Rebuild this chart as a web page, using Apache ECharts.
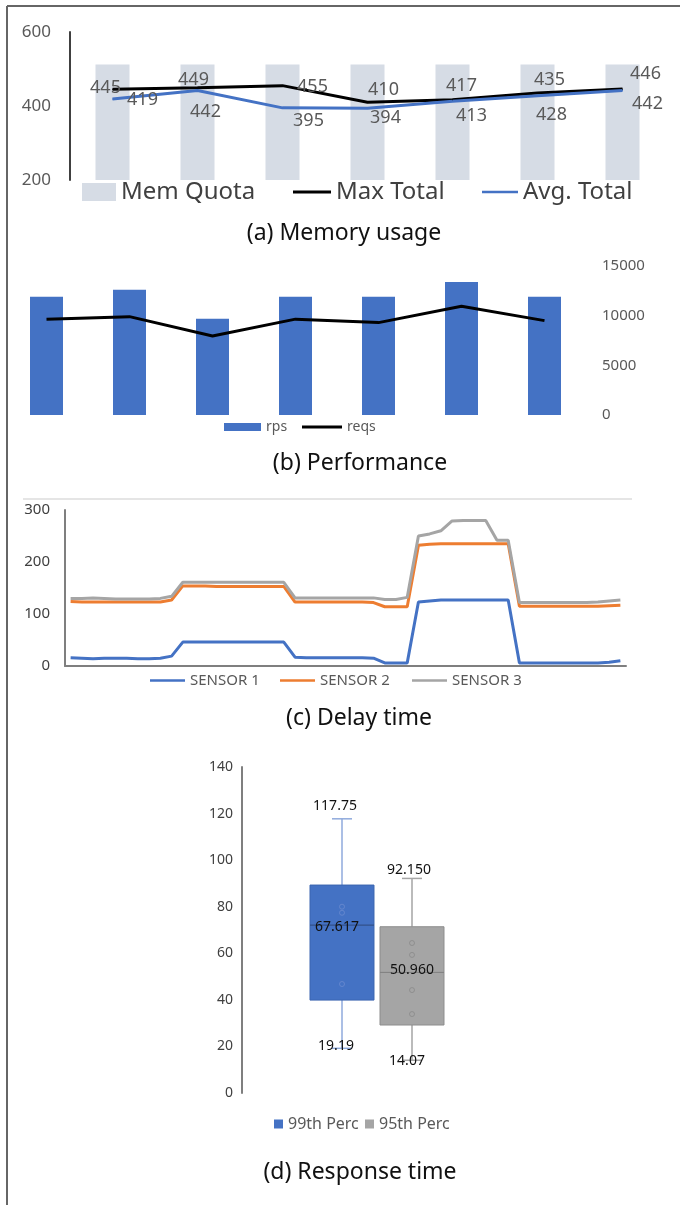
<!DOCTYPE html>
<html>
<head>
<meta charset="utf-8">
<script src="https://cdn.jsdelivr.net/npm/echarts@6/dist/echarts.min.js"></script>
<style>
html, body { margin: 0; padding: 0; background: #fff; }
#chart { width: 680px; height: 1205px; }
</style>
</head>
<body>
<div id="chart"></div>
<script>
// (a) memory usage
var memCats = ['1', '2', '3', '4', '5', '6', '7'];
var memQuota = [512, 512, 512, 512, 512, 512, 512];
var maxTotal = [445, 449, 455, 410, 417, 435, 446];
var avgTotal = [419, 442, 395, 394, 413, 428, 442];

// (b) performance
var perfCats = ['1', '2', '3', '4', '5', '6', '7'];
var rps = [11900, 12600, 9700, 11900, 11900, 13400, 11900];
var reqs = [9650, 9900, 7950, 9650, 9300, 10950, 9500];

// (c) delay time, 50 samples
var delayCats = [];
for (var i = 1; i <= 50; i++) delayCats.push(String(i));
var sensor1 = [16, 15, 14, 15, 15, 15, 14, 14, 15, 19,
	46, 46, 46, 46, 46, 46, 46, 46, 46, 46,
	17, 16, 16, 16, 16, 16, 16, 15, 6, 6,
	6, 123, 125, 127, 127, 127, 127, 127, 127, 127,
	6, 6, 6, 6, 6, 6, 6, 6, 7, 10];
var sensor2 = [124, 123, 123, 123, 123, 123, 123, 123, 123, 127,
	154, 154, 154, 153, 153, 153, 153, 153, 153, 153,
	123, 123, 123, 123, 123, 123, 123, 122, 114, 114,
	114, 232, 234, 235, 235, 235, 235, 235, 235, 235,
	115, 115, 115, 115, 115, 115, 115, 115, 116, 117];
var sensor3 = [130, 130, 131, 130, 129, 129, 129, 129, 130, 134,
	161, 161, 161, 161, 161, 161, 161, 161, 161, 161,
	131, 131, 131, 131, 131, 131, 131, 131, 128, 128,
	132, 250, 254, 260, 279, 280, 280, 280, 242, 242,
	122, 122, 122, 122, 122, 122, 122, 123, 125, 127];

// (d) response time: min, q1, median, q3, max
var respCats = ['p99', 'p95'];
var p99Box = [19.19, 39.9, 72.1, 89.3, 117.75];
var p95Box = [14.07, 29.2, 51.8, 71.4, 92.15];
var p99Mean = 67.617;
var p95Mean = 50.96;
var p99Points = [80, 77.4, 46.8];
var p95Points = [64.4, 59.3, 44.2, 33.9];

// label offsets (px) for panel (a), excel-ish placement
var maxLabelOff = [[-7, -1], [-4, -8], [30, 1], [16, -12], [9, -14], [12, -13], [23, -15]];
var avgLabelOff = [[30, 1], [8, 21], [26, 13], [18, 10], [19, 15], [14, 19], [25, 13]];

var FONT = 'Noto Sans';
var linePath = 'path://M0,0H40V3H0Z';

function labelled(vals, offs) {
	return vals.map(function (v, i) {
		return { value: v, label: { offset: offs[i] } };
	});
}

function legendItem(name, left, top, w, h, icon, size, color) {
	return {
		data: [{ name: name, icon: icon }],
		left: left, top: top,
		itemWidth: w, itemHeight: h,
		padding: 0, selectedMode: false,
		textStyle: { fontSize: size, color: color || '#595959', fontFamily: FONT }
	};
}

function boxSeries(name, cat, box, mean, st) {
	return {
		name: name,
		type: 'custom',
		xAxisIndex: 3,
		yAxisIndex: 3,
		itemStyle: { color: st.fill },
		data: [[cat].concat(box, [mean])],
		encode: { x: 0, y: [1, 2, 3, 4, 5] },
		renderItem: function (params, api) {
			var c = api.value(0);
			var x = api.coord([c, 0])[0];
			var y = function (k) { return api.coord([c, api.value(k)])[1]; };
			var bw = api.size([1, 0])[0] * 0.914;
			var yMin = y(1), yQ1 = y(2), yMed = y(3), yQ3 = y(4), yMax = y(5), yMean = y(6);
			var ln = function (x1, y1, x2, y2, color, w) {
				return { type: 'line', shape: { x1: x1, y1: y1, x2: x2, y2: y2 }, style: { stroke: color, lineWidth: w } };
			};
			var tx = function (val, dec, px, py) {
				return {
					type: 'text', x: px, y: py, z2: 10,
					style: { text: val.toFixed(dec), align: 'center', verticalAlign: 'middle', fontSize: 14, fontFamily: FONT, fill: '#111' }
				};
			};
			return {
				type: 'group',
				children: [
					ln(x, yQ1, x, yMin, st.whisker, 1.5),
					ln(x, yQ3, x, yMax, st.whisker, 1.5),
					ln(x - 10, yMin, x + 10, yMin, st.whisker, 1.5),
					ln(x - 10, yMax, x + 10, yMax, st.whisker, 1.5),
					{ type: 'rect', shape: { x: x - bw / 2, y: yQ3, width: bw, height: yQ1 - yQ3 }, style: { fill: st.fill, stroke: st.border, lineWidth: 1 } },
					ln(x - bw / 2, yMed, x + bw / 2, yMed, st.median, 1),
					tx(api.value(5), st.dec[0], x + st.lab[0][0], yMax + st.lab[0][1]),
					tx(api.value(6), st.dec[1], x + st.lab[1][0], yMean + st.lab[1][1]),
					tx(api.value(1), st.dec[2], x + st.lab[2][0], yMin + st.lab[2][1])
				]
			};
		}
	};
}

var myChart = echarts.init(document.getElementById('chart'));

var option = {
	animation: false,
	backgroundColor: '#fff',
	textStyle: { fontFamily: FONT },
	grid: [
		{ left: 70, right: 15, top: 32, height: 148, outerBoundsMode: 'none' },
		{ left: 5, right: 94, top: 266, height: 149, outerBoundsMode: 'none' },
		{ left: 65, right: 54, top: 510, height: 156, outerBoundsMode: 'none' },
		{ left: 307, width: 140, top: 767, height: 326, outerBoundsMode: 'none' }
	],
	xAxis: [
		{ gridIndex: 0, type: 'category', data: memCats, show: false },
		{ gridIndex: 1, type: 'category', data: perfCats, show: false },
		{
			gridIndex: 2, type: 'category', data: delayCats,
			axisLine: { show: true, lineStyle: { color: '#7f7f7f', width: 2 } },
			axisTick: { show: false }, axisLabel: { show: false }, splitLine: { show: false }
		},
		{ gridIndex: 3, type: 'category', data: respCats, show: false }
	],
	yAxis: [
		{
			gridIndex: 0, type: 'value', min: 200, max: 600, interval: 200,
			axisLine: { show: true, lineStyle: { color: '#404040', width: 2 } },
			axisTick: { show: false }, splitLine: { show: false },
			axisLabel: { fontSize: 17, color: '#595959', margin: 19 }
		},
		{
			gridIndex: 1, type: 'value', position: 'right', min: 0, max: 15000, interval: 5000,
			axisLine: { show: false }, axisTick: { show: false }, splitLine: { show: false },
			axisLabel: { fontSize: 15, color: '#595959', margin: 16, formatter: function (v) { return String(v); } }
		},
		{
			gridIndex: 2, type: 'value', min: 0, max: 300, interval: 100,
			axisLine: { show: true, lineStyle: { color: '#7f7f7f', width: 2 } },
			axisTick: { show: false }, splitLine: { show: false },
			axisLabel: { fontSize: 15, color: '#404040', margin: 15 }
		},
		{
			gridIndex: 3, type: 'value', min: 0, max: 140, interval: 20, offset: 65,
			axisLine: { show: true, lineStyle: { color: '#7f7f7f', width: 2 } },
			axisTick: { show: false }, splitLine: { show: false },
			axisLabel: { fontSize: 14, color: '#404040', margin: 9 }
		}
	],
	legend: [
		legendItem('Mem Quota', 82, 180, 34, 18, 'rect', 24, '#404040'),
		legendItem('Max Total', 293, 180, 38, 3, linePath, 24, '#404040'),
		legendItem('Avg. Total', 482, 180, 36, 3, linePath, 24, '#404040'),
		legendItem('rps', 224, 420, 37, 8, 'rect', 14),
		legendItem('reqs', 302, 420, 40, 3, linePath, 14),
		legendItem('SENSOR 1', 150, 673, 35, 3, linePath, 15),
		legendItem('SENSOR 2', 280, 673, 35, 3, linePath, 15),
		legendItem('SENSOR 3', 412, 673, 35, 3, linePath, 15),
		legendItem('99th Perc', 274, 1116, 9, 9, 'rect', 16),
		legendItem('95th Perc', 365, 1116, 9, 9, 'rect', 16)
	],
	series: [
		{
			name: 'Mem Quota', type: 'bar', xAxisIndex: 0, yAxisIndex: 0,
			data: memQuota, barWidth: 34, itemStyle: { color: '#d6dce5' }
		},
		{
			name: 'Max Total', type: 'line', xAxisIndex: 0, yAxisIndex: 0,
			data: labelled(maxTotal, maxLabelOff),
			symbol: 'circle', symbolSize: 1,
			lineStyle: { color: '#000', width: 3 }, itemStyle: { color: '#000' },
			label: { show: true, position: 'inside', fontSize: 18, color: '#595959' }
		},
		{
			name: 'Avg. Total', type: 'line', xAxisIndex: 0, yAxisIndex: 0,
			data: labelled(avgTotal, avgLabelOff),
			symbol: 'circle', symbolSize: 1,
			lineStyle: { color: '#4472c4', width: 3 }, itemStyle: { color: '#4472c4' },
			label: { show: true, position: 'inside', fontSize: 18, color: '#595959' }
		},
		{
			name: 'rps', type: 'bar', xAxisIndex: 1, yAxisIndex: 1,
			data: rps, barWidth: 33, itemStyle: { color: '#4472c4' }
		},
		{
			name: 'reqs', type: 'line', xAxisIndex: 1, yAxisIndex: 1,
			data: reqs, symbol: 'none',
			lineStyle: { color: '#000', width: 3 }, itemStyle: { color: '#000' }
		},
		{
			name: 'SENSOR 1', type: 'line', xAxisIndex: 2, yAxisIndex: 2,
			data: sensor1, symbol: 'none',
			lineStyle: { color: '#4472c4', width: 3 }, itemStyle: { color: '#4472c4' }
		},
		{
			name: 'SENSOR 2', type: 'line', xAxisIndex: 2, yAxisIndex: 2,
			data: sensor2, symbol: 'none',
			lineStyle: { color: '#ed7d31', width: 3 }, itemStyle: { color: '#ed7d31' }
		},
		{
			name: 'SENSOR 3', type: 'line', xAxisIndex: 2, yAxisIndex: 2,
			data: sensor3, symbol: 'none',
			lineStyle: { color: '#a5a5a5', width: 3 }, itemStyle: { color: '#a5a5a5' }
		},
		boxSeries('99th Perc', 0, p99Box, p99Mean, {
			fill: '#4472c4', border: '#3b65b0', whisker: '#8faadc', median: '#2f4a7c',
			dec: [2, 3, 2], lab: [[-7, -13], [-5, -9], [-6, -2]]
		}),
		boxSeries('95th Perc', 1, p95Box, p95Mean, {
			fill: '#a5a5a5', border: '#8c8c8c', whisker: '#a5a5a5', median: '#7f7f7f',
			dec: [3, 3, 2], lab: [[-3, -8], [0, -4], [-5, 1]]
		}),
		{
			type: 'scatter', xAxisIndex: 3, yAxisIndex: 3,
			data: p99Points.map(function (v) { return [0, v]; }),
			symbol: 'circle', symbolSize: 5,
			itemStyle: { color: 'rgba(0,0,0,0)', borderColor: '#6a8bd0', borderWidth: 1 }
		},
		{
			type: 'scatter', xAxisIndex: 3, yAxisIndex: 3,
			data: p95Points.map(function (v) { return [1, v]; }),
			symbol: 'circle', symbolSize: 5,
			itemStyle: { color: 'rgba(0,0,0,0)', borderColor: '#8a8a8a', borderWidth: 1 }
		}
	],
	graphic: [
		{ type: 'line', shape: { x1: 7, y1: 6, x2: 680, y2: 6 }, style: { stroke: '#666', lineWidth: 2 } },
		{ type: 'line', shape: { x1: 7, y1: 6, x2: 7, y2: 1205 }, style: { stroke: '#666', lineWidth: 2 } },
		{ type: 'line', shape: { x1: 23, y1: 499, x2: 632, y2: 499 }, style: { stroke: '#dcdcdc', lineWidth: 1.5 } },
		{ type: 'text', x: 344, y: 233, style: { text: '(a) Memory usage', align: 'center', verticalAlign: 'middle', fontSize: 23, fontFamily: FONT, fill: '#111' } },
		{ type: 'text', x: 360, y: 463, style: { text: '(b) Performance', align: 'center', verticalAlign: 'middle', fontSize: 23, fontFamily: FONT, fill: '#111' } },
		{ type: 'text', x: 359, y: 718, style: { text: '(c) Delay time', align: 'center', verticalAlign: 'middle', fontSize: 23, fontFamily: FONT, fill: '#111' } },
		{ type: 'text', x: 360, y: 1172, style: { text: '(d) Response time', align: 'center', verticalAlign: 'middle', fontSize: 23, fontFamily: FONT, fill: '#111' } }
	]
};

myChart.setOption(option);
</script>
</body>
</html>
